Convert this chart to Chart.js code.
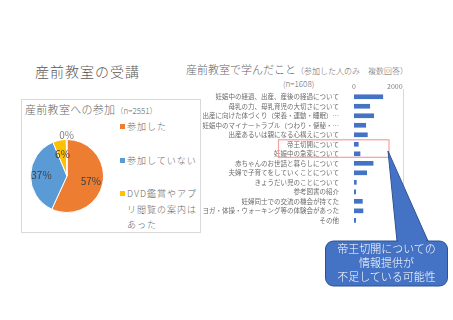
<!DOCTYPE html>
<html><head><meta charset="utf-8">
<script src="https://cdn.jsdelivr.net/npm/chart.js@4.4.1/dist/chart.umd.min.js"></script>
<style>
html,body{margin:0;padding:0;background:#fff;}
body{width:453px;height:320px;position:relative;overflow:hidden;font-family:"Noto Sans CJK JP","Noto Sans",sans-serif;font-weight:300;color:#666;}
.abs{position:absolute;white-space:nowrap;}
#title{left:35px;top:61px;font-size:14px;letter-spacing:1px;line-height:20px;color:#595959;}
#pieBox{left:21px;top:99px;width:180px;height:134px;border:1px solid #d9d9d9;box-sizing:border-box;}
#pieTitle{left:25px;top:101px;font-size:11px;letter-spacing:0.3px;line-height:16px;}
#pieTitle small{font-size:8px;letter-spacing:0;}
#pieWrap{left:17px;top:126px;width:100px;height:100px;}
#barTitle{left:186px;top:61px;font-size:11px;line-height:16px;}
#barTitle small{font-size:8px;}
#barN{left:283px;top:78px;font-size:8px;line-height:12px;}
#barWrap{left:200px;top:76px;width:210px;height:160px;}
.leg{position:absolute;left:120px;font-size:9px;letter-spacing:1px;line-height:15.5px;white-space:nowrap;}
.sq{position:absolute;left:0;top:5px;width:5px;height:5px;}
.leg .t{display:block;padding-left:7px;}
#overlay{position:absolute;left:0;top:0;}
</style></head><body>
<script>
// ---- data ----
const pieLabels = ['参加した', '参加していない', 'DVD鑑賞やアプリ閲覧の案内はあった', '無回答'];
const pieValues = [57, 37, 6, 0.3];
const pieText = ['57%', '37%', '6%', '0%'];
const pieLegendLines = [['参加した'], ['参加していない'], ['DVD鑑賞やアプ', 'リ閲覧の案内は', 'あった']];
const pieN = 2551;

const barLabels = [
  '妊娠中の経過、出産、産後の経過について',
  '母乳の力、母乳育児の大切さについて',
  '出産に向けた体づくり（栄養・運動・睡眠）…',
  '妊娠中のマイナートラブル（つわり・便秘・…',
  '出産あるいは親になる心構えについて',
  '帝王切開について',
  '妊娠中の急変について',
  '赤ちゃんのお世話と暮らしについて',
  '夫婦で子育てをしていくことについて',
  'きょうだい児のことについて',
  '参考図書の紹介',
  '妊婦同士での交流の機会が持てた',
  'ヨガ・体操・ウォーキング等の体験会があった',
  'その他'
];
const barValues = [1410, 770, 965, 575, 655, 210, 295, 935, 620, 115, 80, 410, 440, 80];
const barTicks = [0, 2000];
const barN = 1608;
const highlightRows = [5, 6];
const calloutLines = ['帝王切開についての', '情報提供が', '不足している可能性'];
</script>

<div class="abs" id="title">産前教室の受講</div>
<div class="abs" id="pieBox"></div>
<div class="abs" id="pieTitle"></div>
<div class="abs" id="pieWrap"><canvas id="pie" width="100" height="100"></canvas></div>
<div id="legend"></div>

<div class="abs" id="barTitle">産前教室で学んだこと<small>（参加した人のみ　複数回答）</small></div>
<div class="abs" id="barN"></div>
<div class="abs" id="barWrap"><canvas id="bar" width="210" height="160"></canvas></div>

<svg id="overlay" width="453" height="320">
  <path d="M388,151 L428,241 L397,241 Z" fill="#4472c4" stroke="#2f528f" stroke-width="1"/>
  <rect x="325.5" y="241" width="122" height="45" rx="8" ry="8" fill="#4472c4" stroke="#2f528f" stroke-width="1"/>
  <path d="M388.6,153 L427,242 L398,242 Z" fill="#4472c4"/>
  <g id="calloutText" fill="#ffffff" font-size="11" text-anchor="middle" font-family="Noto Sans CJK JP, sans-serif"></g>
</svg>

<script>
const FONT = '"Noto Sans CJK JP", "Noto Sans", sans-serif';
const pieColors = ['#ed7d31', '#5b9bd5', '#ffc000', '#a5a5a5'];

document.getElementById('pieTitle').innerHTML = '産前教室への参加<small>（n=' + pieN + '）</small>';
document.getElementById('barN').textContent = '(n=' + barN + ')';

// legend
const legTops = [119, 153, 186];
const legend = document.getElementById('legend');
pieLegendLines.forEach((lines, i) => {
  const d = document.createElement('div');
  d.className = 'leg';
  d.style.top = legTops[i] + 'px';
  d.innerHTML = '<div class="sq" style="background:' + pieColors[i] + '"></div>' +
    lines.map(l => '<span class="t">' + l + '</span>').join('');
  legend.appendChild(d);
});

// callout text
const g = document.getElementById('calloutText');
calloutLines.forEach((l, i) => {
  const t = document.createElementNS('http://www.w3.org/2000/svg', 'text');
  t.setAttribute('x', 386.5);
  t.setAttribute('y', 253 + i * 14);
  t.textContent = l;
  g.appendChild(t);
});

const pieLabelPlugin = {
  id: 'pieLabels',
  afterDatasetsDraw(chart) {
    const ctx = chart.ctx;
    const meta = chart.getDatasetMeta(0);
    const rad = [0.67, 0.7, 0.6, 1.12];
    meta.data.forEach((arc, i) => {
      const mid = (arc.startAngle + arc.endAngle) / 2;
      const r = arc.outerRadius * rad[i];
      const x = arc.x + Math.cos(mid) * r;
      const y = arc.y + Math.sin(mid) * r;
      ctx.save();
      ctx.font = '10px ' + FONT;
      ctx.fillStyle = i === 3 ? '#7f7f7f' : '#404040';
      ctx.textAlign = 'center';
      ctx.textBaseline = 'middle';
      ctx.fillText(pieText[i], x, y);
      ctx.restore();
    });
  }
};

new Chart(document.getElementById('pie'), {
  type: 'pie',
  data: { labels: pieLabels, datasets: [{ data: pieValues, backgroundColor: pieColors, borderColor: '#ffffff', borderWidth: 1 }] },
  options: {
    responsive: false, animation: false,
    layout: { padding: 13 },
    plugins: { legend: { display: false }, tooltip: { enabled: false } }
  },
  plugins: [pieLabelPlugin]
});

const barDecor = {
  id: 'barDecor',
  afterDraw(chart) {
    const { ctx, chartArea, scales: { y } } = chart;
    ctx.save();
    ctx.strokeStyle = '#d9d9d9';
    ctx.lineWidth = 1;
    ctx.beginPath();
    ctx.moveTo(Math.round(chartArea.right) + 0.5, chartArea.top - 3);
    ctx.lineTo(Math.round(chartArea.right) + 0.5, chartArea.bottom + 3);
    ctx.stroke();
    const y0 = y.getPixelForValue(highlightRows[0]) - 4.5;
    const y1 = y.getPixelForValue(highlightRows[1]) + 3.5;
    ctx.strokeStyle = '#f3a0a0';
    ctx.lineWidth = 1.2;
    ctx.strokeRect(78.5, y0, 110.5, y1 - y0);
    ctx.restore();
  }
};

new Chart(document.getElementById('bar'), {
  type: 'bar',
  data: { labels: barLabels, datasets: [{ data: barValues, backgroundColor: '#4472c4', barThickness: 4 }] },
  options: {
    indexAxis: 'y', responsive: false, animation: false,
    layout: { padding: { left: 0, right: 7, top: 0, bottom: 4 } },
    plugins: { legend: { display: false }, tooltip: { enabled: false } },
    scales: {
      x: {
        position: 'top', min: 0, max: 2400,
        afterBuildTicks(s) { s.ticks = barTicks.map(v => ({ value: v })); },
        grid: { display: false }, border: { display: false },
        ticks: { color: '#7f7f7f', font: { size: 7, family: FONT }, padding: -7, maxRotation: 0, autoSkip: false,
                 callback: (v) => String(v) },
        afterFit(s) { s.height = 16; }
      },
      y: {
        grid: { display: false }, border: { display: false },
        ticks: { color: '#6a6a6a', font: { size: 6.5, family: FONT }, padding: 7, autoSkip: false },
        afterFit(s) { s.width = 154; }
      }
    }
  },
  plugins: [barDecor]
});
</script>
</body></html>
